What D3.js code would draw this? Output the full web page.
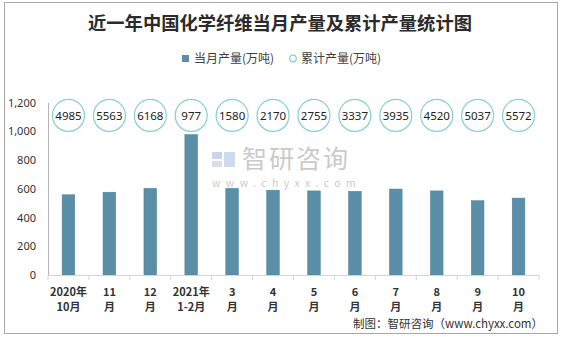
<!DOCTYPE html>
<html><head><meta charset="utf-8">
<script src="https://cdn.jsdelivr.net/npm/d3@7/dist/d3.min.js"></script>
<style>
html,body{margin:0;padding:0;background:#fff;}
svg{display:block;font-family:"Noto Sans CJK SC","Noto Sans",sans-serif;}
</style></head>
<body>
<svg id="c" width="563" height="337"></svg>
<script>
const categories = ["2020年10月","11月","12月","2021年1-2月","3月","4月","5月","6月","7月","8月","9月","10月"];
const labelLine1 = ["2020年","11","12","2021年","3","4","5","6","7","8","9","10"];
const labelLine2 = ["10月","月","月","1-2月","月","月","月","月","月","月","月","月"];
const monthly = [558, 576, 603, 977, 603, 590, 585, 582, 598, 585, 517, 535];
const cumulative = [4985, 5563, 6168, 977, 1580, 2170, 2755, 3337, 3935, 4520, 5037, 5572];
const yTicks = [0, 200, 400, 600, 800, 1000, 1200];
const title = "近一年中国化学纤维当月产量及累计产量统计图";
const legendNames = ["当月产量(万吨)", "累计产量(万吨)"];
const source = "制图：智研咨询（www.chyxx.com）";

const barColor = "#5b8fa7", ringColor = "#86d0cc", textColor = "#333";
const svg = d3.select("#c");

// frame
svg.append("rect").attr("x",4.5).attr("y",2.5).attr("width",553).attr("height",331)
  .attr("fill","none").attr("stroke","#a9a9a9");

// title
svg.append("text").attr("x",280).attr("y",30).attr("text-anchor","middle")
  .attr("font-size",18.3).attr("font-weight","bold").attr("fill","#2b2b2b").text(title);

// legend
const lg = svg.append("g");
lg.append("rect").attr("x",182).attr("y",55).attr("width",7).attr("height",7).attr("fill",barColor);
lg.append("text").attr("x",194).attr("y",63).attr("font-size",12).attr("fill","#404040").text(legendNames[0]);
lg.append("circle").attr("cx",293).attr("cy",58.5).attr("r",3.3).attr("fill","#fff").attr("stroke",ringColor).attr("stroke-width",1.2);
lg.append("text").attr("x",301).attr("y",63).attr("font-size",12).attr("fill","#404040").text(legendNames[1]);

// scales
const x = d3.scaleBand().domain(categories).range([48, 539]).paddingInner(0.69).paddingOuter(0.345);
const y = d3.scaleLinear().domain([0, 1200]).range([275, 102.5]);

// watermark
const wm = svg.append("g").attr("opacity",0.55);
wm.append("rect").attr("x",212).attr("y",152).attr("width",10).attr("height",7).attr("fill","#9fb3d6");
wm.append("rect").attr("x",212).attr("y",161).attr("width",10).attr("height",6).attr("fill","#b9c6dd");
wm.append("rect").attr("x",224).attr("y",152).attr("width",11).attr("height",15).attr("fill","#a9bfd9");
wm.append("text").attr("x",242).attr("y",168).attr("font-size",25).attr("letter-spacing",2).attr("fill","#a0a0a0").text("智研咨询");
wm.append("text").attr("x",212).attr("y",187).attr("font-size",10.5).attr("letter-spacing",5.4).attr("fill","#a0a0a0").text("www.chyxx.com");

// y axis
const ya = svg.append("g").attr("transform","translate(48,0)")
  .call(d3.axisLeft(y).tickValues(yTicks).tickFormat(d3.format(",")).tickSize(0).tickPadding(12));
ya.select(".domain").attr("stroke","#b5b5b5");
ya.selectAll("text").attr("font-size",11).attr("fill",textColor).attr("font-family","'Noto Sans','Liberation Sans',sans-serif");

// bars
svg.append("g").selectAll("rect").data(monthly).join("rect")
  .attr("x",(d,i)=>x(categories[i])).attr("width",x.bandwidth())
  .attr("y",d=>y(d)).attr("height",d=>y(0)-y(d))
  .attr("fill",barColor).attr("stroke","#4f8199").attr("stroke-width",0.5);

// x axis
const step = x.step();
const xa = svg.append("g");
xa.append("line").attr("x1",48).attr("x2",539).attr("y1",275.5).attr("y2",275.5).attr("stroke","#d4d4d4");
xa.selectAll("line.tk").data(d3.range(categories.length+1)).join("line").attr("class","tk")
  .attr("x1",i=>48+i*step).attr("x2",i=>48+i*step).attr("y1",275.5).attr("y2",280).attr("stroke","#d4d4d4");
const xl = xa.selectAll("g.lab").data(categories).join("g").attr("class","lab")
  .attr("transform",d=>`translate(${x(d)+x.bandwidth()/2},0)`);
xl.append("text").attr("y",296).attr("text-anchor","middle").attr("font-size",11).attr("font-weight","bold")
  .attr("fill",textColor).text((d,i)=>labelLine1[i]);
xl.append("text").attr("y",311).attr("text-anchor","middle").attr("font-size",11).attr("font-weight","bold")
  .attr("fill",textColor).text((d,i)=>labelLine2[i]);

// cumulative rings (drawn at a fixed level along the top of the plot)
const ringLevel = 1110;
const rg = svg.append("g").selectAll("g").data(cumulative).join("g")
  .attr("transform",(d,i)=>`translate(${x(categories[i])+x.bandwidth()/2},${y(ringLevel)})`);
rg.append("circle").attr("r",16).attr("fill","#fff").attr("stroke",ringColor).attr("stroke-width",1.2);
rg.append("text").attr("text-anchor","middle").attr("dy","0.36em").attr("font-size",11.5)
  .attr("fill","#222").attr("font-family","'Noto Sans','Liberation Sans',sans-serif").text(d=>d);

// source
svg.append("text").attr("x",543).attr("y",328).attr("text-anchor","end").attr("font-size",11.5)
  .attr("fill",textColor).text(source);
</script>
</body></html>
